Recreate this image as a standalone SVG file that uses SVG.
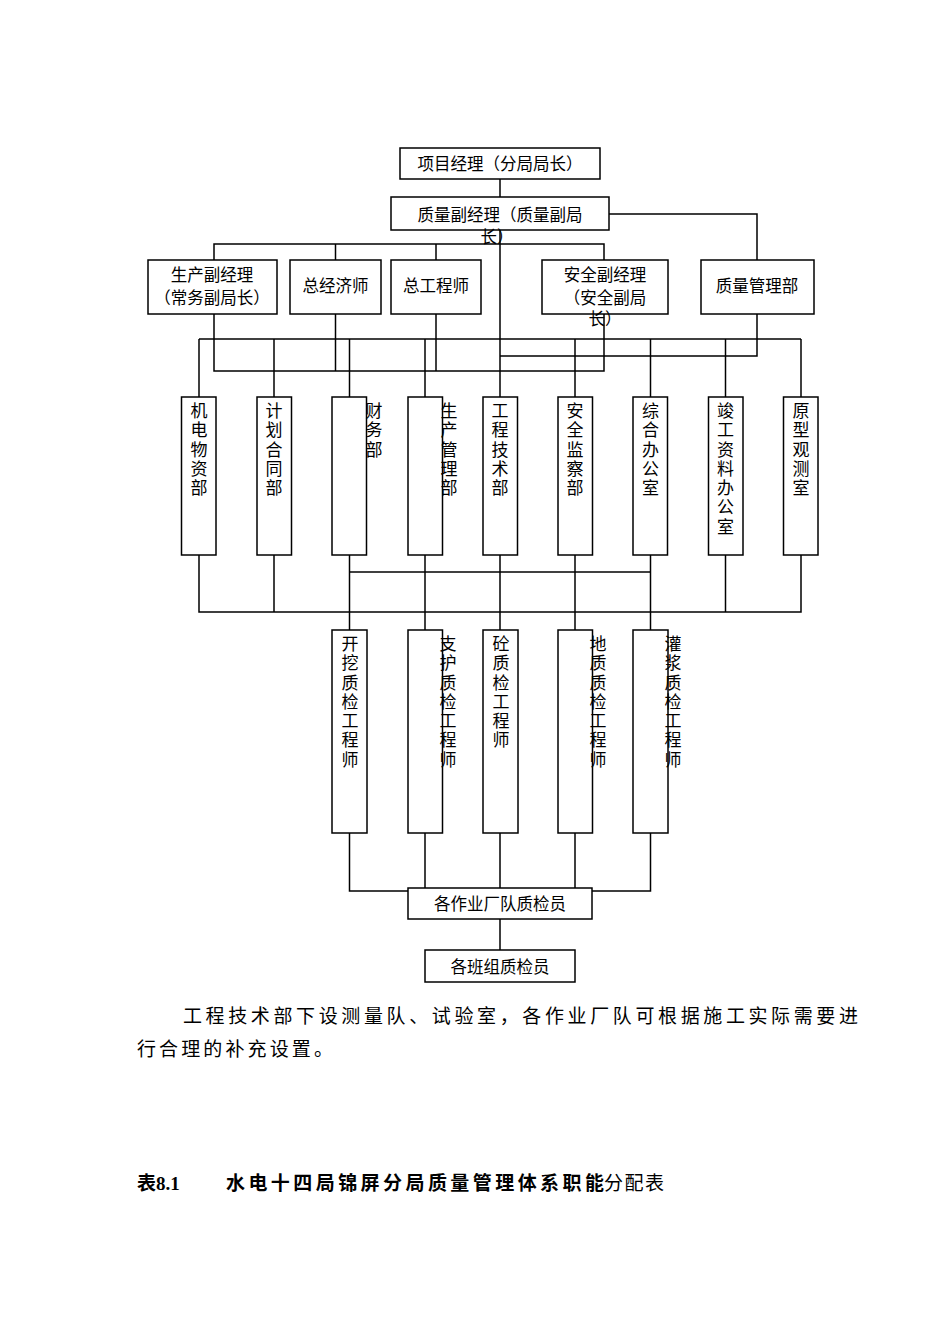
<svg xmlns="http://www.w3.org/2000/svg" width="950" height="1344" viewBox="0 0 950 1344">
<style>
rect{fill:#fff;stroke:#000;stroke-width:1.5}
.c line,.c polyline{stroke:#000;stroke-width:1.5;fill:none}
text{font-family:"Noto Sans CJK SC","Noto Sans",sans-serif;font-size:16.5px;fill:#000}
.m{text-anchor:middle}
.v{writing-mode:vertical-rl;text-orientation:upright;letter-spacing:2.3px;font-size:17px}
</style>
<g class="c" id="connectors">
<line x1="500" y1="179" x2="500" y2="398"/>
<polyline points="608,214 757,214 757,260"/>
<polyline points="214,260 214,244 604,244 604,260"/>
<line x1="335.5" y1="244" x2="335.5" y2="260"/>
<line x1="436" y1="244" x2="436" y2="260"/>
<polyline points="214,314 214,371 604,371 604,314"/>
<line x1="335.5" y1="314" x2="335.5" y2="371"/>
<line x1="436" y1="314" x2="436" y2="371"/>
<polyline points="500,356 757,356 757,314"/>
<line x1="199" y1="339" x2="801" y2="339"/>
<line x1="199" y1="339" x2="199" y2="397"/>
<line x1="274" y1="339" x2="274" y2="397"/>
<line x1="349.5" y1="339" x2="349.5" y2="397"/>
<line x1="425" y1="339" x2="425" y2="397"/>
<line x1="575" y1="339" x2="575" y2="397"/>
<line x1="650.5" y1="339" x2="650.5" y2="397"/>
<line x1="725.5" y1="339" x2="725.5" y2="397"/>
<line x1="801" y1="339" x2="801" y2="397"/>
<polyline points="199,555 199,612 801,612 801,555"/>
<line x1="274" y1="555" x2="274" y2="612"/>
<line x1="725.5" y1="555" x2="725.5" y2="612"/>
<line x1="349.5" y1="572" x2="650.5" y2="572"/>
<line x1="349.5" y1="555" x2="349.5" y2="630"/>
<line x1="425" y1="555" x2="425" y2="630"/>
<line x1="500" y1="555" x2="500" y2="630"/>
<line x1="575" y1="555" x2="575" y2="630"/>
<line x1="650.5" y1="555" x2="650.5" y2="630"/>
<polyline points="349.5,833 349.5,891 408,891"/>
<polyline points="650.5,833 650.5,891 592,891"/>
<line x1="425" y1="833" x2="425" y2="888"/>
<line x1="500" y1="833" x2="500" y2="888"/>
<line x1="575" y1="833" x2="575" y2="888"/>
<line x1="500" y1="919" x2="500" y2="950"/>
</g>
<g id="n1"><rect x="400" y="148" width="200" height="31"/><text x="500" y="170" class="m">项目经理（分局局长）</text></g>
<g id="n2"><rect x="391" y="197" width="218" height="33"/><text x="500" y="221" class="m">质量副经理（质量副局</text><text x="497" y="243" class="m">长）</text></g>
<g id="n3"><rect x="148" y="260" width="129" height="54"/><text x="212" y="281" class="m">生产副经理</text><text x="212" y="304" class="m">（常务副局长）</text></g>
<g id="n4"><rect x="290" y="260" width="91" height="54"/><text x="335.5" y="292" class="m">总经济师</text></g>
<g id="n5"><rect x="391" y="260" width="90" height="54"/><text x="436" y="292" class="m">总工程师</text></g>
<g id="n6"><rect x="542" y="260" width="126" height="54"/><text x="605" y="281" class="m">安全副经理</text><text x="605" y="304" class="m">（安全副局</text><text x="605" y="325" class="m">长）</text></g>
<g id="n7"><rect x="701" y="260" width="113" height="54"/><text x="757" y="292" class="m">质量管理部</text></g>
<g id="d1"><rect x="181.5" y="397" width="34.5" height="158"/><text x="199" y="402" class="v">机电物资部</text></g>
<g id="d2"><rect x="257" y="397" width="34.5" height="158"/><text x="274" y="402" class="v">计划合同部</text></g>
<g id="d3"><rect x="332" y="397" width="34.5" height="158"/><text x="374" y="402" class="v">财务部</text></g>
<g id="d4"><rect x="408" y="397" width="34.5" height="158"/><text x="449" y="402" class="v">生产管理部</text></g>
<g id="d5"><rect x="483" y="397" width="34.5" height="158"/><text x="500" y="402" class="v">工程技术部</text></g>
<g id="d6"><rect x="558" y="397" width="34.5" height="158"/><text x="575" y="402" class="v">安全监察部</text></g>
<g id="d7"><rect x="633" y="397" width="34.5" height="158"/><text x="650.5" y="402" class="v">综合办公室</text></g>
<g id="d8"><rect x="708.5" y="397" width="34.5" height="158"/><text x="725.5" y="402" class="v">竣工资料办公室</text></g>
<g id="d9"><rect x="783.5" y="397" width="34.5" height="158"/><text x="801" y="402" class="v">原型观测室</text></g>
<g id="q1"><rect x="332" y="630" width="35" height="203"/><text x="350" y="635" class="v">开挖质检工程师</text></g>
<g id="q2"><rect x="408" y="630" width="34.5" height="203"/><text x="448" y="635" class="v">支护质检工程师</text></g>
<g id="q3"><rect x="483" y="630" width="35" height="203"/><text x="501" y="635" class="v">砼质检工程师</text></g>
<g id="q4"><rect x="558" y="630" width="34.5" height="203"/><text x="598" y="635" class="v">地质质检工程师</text></g>
<g id="q5"><rect x="633" y="630" width="35" height="203"/><text x="673" y="635" class="v">灌浆质检工程师</text></g>
<g id="b1"><rect x="408" y="888" width="184" height="31"/><text x="500" y="910" class="m">各作业厂队质检员</text></g>
<g id="b2"><rect x="425" y="950" width="150" height="32"/><text x="500" y="973" class="m">各班组质检员</text></g>
<text x="183" y="1023" style="font-size:19px" textLength="675" lengthAdjust="spacing">工程技术部下设测量队、试验室，各作业厂队可根据施工实际需要进</text>
<text x="137" y="1056" style="font-size:19px" textLength="196" lengthAdjust="spacing">行合理的补充设置。</text>
<text x="137" y="1190" style="font-size:19px;font-weight:bold;font-family:'Liberation Serif','Noto Sans CJK SC',serif">表8.1</text>
<text x="226" y="1190" style="font-size:19px;font-weight:bold" textLength="378" lengthAdjust="spacing">水电十四局锦屏分局质量管理体系职能</text>
<text x="604" y="1190" style="font-size:19px" textLength="60" lengthAdjust="spacing">分配表</text>
</svg>
